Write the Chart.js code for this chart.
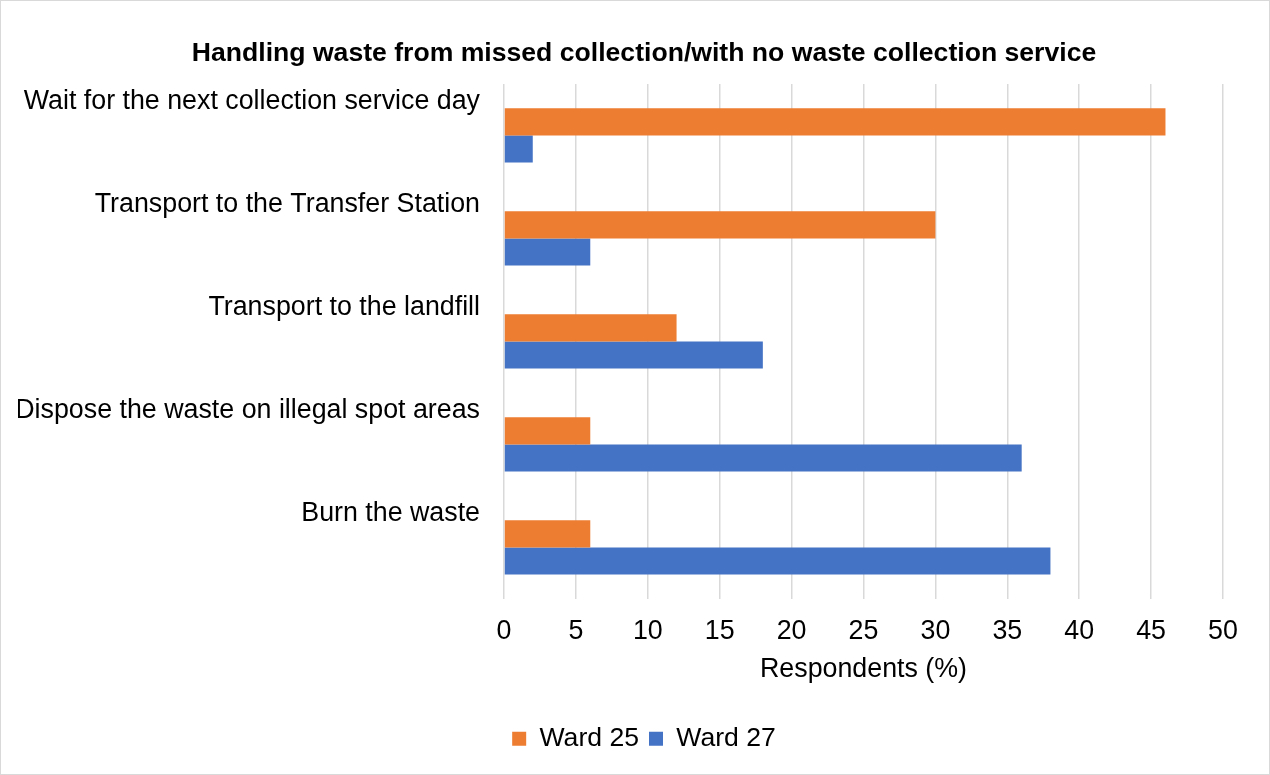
<!DOCTYPE html>
<html>
<head>
<meta charset="utf-8">
<script src="https://cdn.jsdelivr.net/npm/chart.js@4/dist/chart.umd.min.js"></script>
<style>
  html, body { margin: 0; padding: 0; background: #ffffff; }
  canvas { display: block; }
</style>
</head>
<body>
<canvas id="chart" width="1270" height="775"></canvas>
<script>
// Survey responses: how households deal with waste when collection is missed
const categories = [
  'Wait for the next collection service day',
  'Transport to the Transfer Station',
  'Transport to the landfill',
  'Dispose the waste on illegal spot areas',
  'Burn the waste'
];
const ward25 = [46, 30, 12, 6, 6];
const ward27 = [2, 6, 18, 36, 38];
const seriesNames = ['Ward 25', 'Ward 27'];
const chartTitle = 'Handling waste from missed collection/with no waste collection service';
const axisTitle = 'Respondents (%)';

const FONT = "'Liberation Sans', Arial, sans-serif";
const TEXT_SIZE = 26.8;

// White background and thin grey frame around the whole chart
const framePlugin = {
  id: 'frame',
  beforeDraw(chart) {
    const { ctx, width, height } = chart;
    ctx.save();
    ctx.fillStyle = '#ffffff';
    ctx.fillRect(0, 0, width, height);
    ctx.strokeStyle = '#d9d9d9';
    ctx.lineWidth = 1;
    ctx.strokeRect(0.5, 0.5, width - 1, height - 1);
    ctx.restore();
  }
};

new Chart(document.getElementById('chart'), {
  type: 'bar',
  data: {
    labels: categories,
    datasets: [
      { label: seriesNames[0], data: ward25, backgroundColor: '#ED7D31', borderWidth: 0 },
      { label: seriesNames[1], data: ward27, backgroundColor: '#4472C4', borderWidth: 0 }
    ]
  },
  options: {
    indexAxis: 'y',
    responsive: false,
    devicePixelRatio: 1,
    animation: false,
    categoryPercentage: 0.526,
    barPercentage: 1,
    layout: { padding: { left: 18, right: 0, top: 0, bottom: 13 } },
    scales: {
      x: {
        min: 0,
        max: 50,
        ticks: { stepSize: 5, color: '#000000', padding: 17, font: { family: FONT, size: TEXT_SIZE } },
        grid: { color: '#d9d9d9', lineWidth: 1.5, drawTicks: false },
        border: { display: false },
        title: {
          display: true,
          text: axisTitle,
          color: '#000000',
          font: { family: FONT, size: TEXT_SIZE },
          padding: { top: 6, bottom: 29.5 }
        },
        afterFit(scale) {
          scale.height = 116.5;
          scale.paddingRight = 47;
        }
      },
      y: {
        ticks: {
          color: '#000000',
          padding: 24,
          autoSkip: false,
          font: { family: FONT, size: TEXT_SIZE, lineHeight: '68px' },
          // label sits on the upper line, above its pair of bars
          callback: (value, index) => [categories[index], '']
        },
        grid: { display: false, drawTicks: false },
        border: { display: false },
        afterFit(scale) {
          scale.width = 486;
          scale.paddingTop = 0;
          scale.paddingBottom = 0;
        }
      }
    },
    plugins: {
      title: {
        display: true,
        text: chartTitle,
        color: '#000000',
        font: { family: FONT, size: 26.6, weight: 'bold' },
        padding: { top: 38, bottom: 14 }
      },
      legend: {
        position: 'bottom',
        labels: {
          color: '#000000',
          boxWidth: 14,
          boxHeight: 14,
          padding: 10,
          font: { family: FONT, size: 26.6 }
        }
      },
      tooltip: { enabled: false }
    }
  },
  plugins: [framePlugin]
});
</script>
</body>
</html>
